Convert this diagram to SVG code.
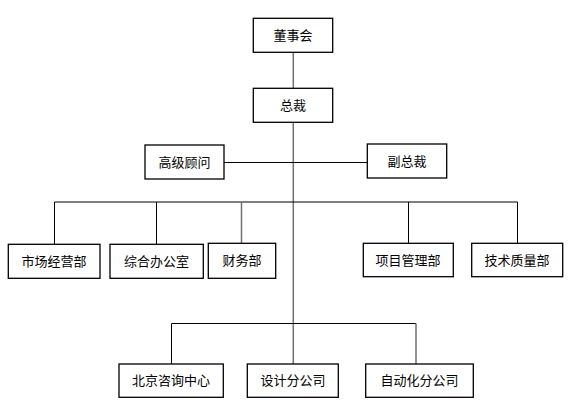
<svg xmlns="http://www.w3.org/2000/svg" width="575" height="415" viewBox="0 0 575 415">
<style>
.box{fill:#fff;stroke:#000;stroke-width:1.3}
.t{font-family:"Noto Sans CJK SC","Liberation Sans",sans-serif;font-size:13px;fill:#000;text-anchor:middle}
.ln{stroke:#000;stroke-width:1;fill:none}
.gr{stroke:#707070;stroke-width:1.5;fill:none}
</style>
<rect width="575" height="415" fill="#fff"/>
<g id="connectors">
<line class="gr" x1="293.3" y1="52" x2="293.3" y2="364"/>
<line class="ln" x1="224" y1="162.5" x2="367" y2="162.5"/>
<polyline class="ln" points="54.5,244 54.5,202 517.5,202 517.5,243"/>
<line class="ln" x1="156.5" y1="202" x2="156.5" y2="244"/>
<line class="gr" x1="241.5" y1="202" x2="241.5" y2="243"/>
<line class="ln" x1="408.5" y1="202" x2="408.5" y2="243"/>
<polyline class="ln" points="171.5,364 171.5,323.5 416,323.5"/>
<line class="gr" x1="416" y1="323.5" x2="416" y2="364"/>
</g>
<g id="n-dongshihui"><rect class="box" x="253.3" y="18.3" width="79.4" height="34"/><text class="t" x="293" y="39.5">董事会</text></g>
<g id="n-zongcai"><rect class="box" x="253.3" y="88.3" width="79.4" height="34"/><text class="t" x="293" y="109.5">总裁</text></g>
<g id="n-gaojiguwen"><rect class="box" x="145" y="145" width="79" height="34"/><text class="t" x="184.5" y="166.5">高级顾问</text></g>
<g id="n-fuzongcai"><rect class="box" x="367.3" y="144" width="79.4" height="34"/><text class="t" x="407" y="165.5">副总裁</text></g>
<g id="n-shichang"><rect class="box" x="8.3" y="244.3" width="91.7" height="34"/><text class="t" x="54" y="266">市场经营部</text></g>
<g id="n-zonghe"><rect class="box" x="110" y="244.3" width="93.3" height="34"/><text class="t" x="156.5" y="266">综合办公室</text></g>
<g id="n-caiwu"><rect class="box" x="208.3" y="243.3" width="67.4" height="35"/><text class="t" x="242" y="264.5">财务部</text></g>
<g id="n-xiangmu"><rect class="box" x="363.3" y="243.3" width="90" height="33.4"/><text class="t" x="408" y="264.5">项目管理部</text></g>
<g id="n-jishu"><rect class="box" x="471.7" y="243.3" width="91" height="33.4"/><text class="t" x="517" y="264.5">技术质量部</text></g>
<g id="n-beijing"><rect class="box" x="119" y="364" width="104.3" height="33.3"/><text class="t" x="171" y="385">北京咨询中心</text></g>
<g id="n-sheji"><rect class="box" x="247.3" y="364" width="91" height="33.3"/><text class="t" x="293" y="385">设计分公司</text></g>
<g id="n-zidonghua"><rect class="box" x="365.7" y="364" width="107.6" height="33.3"/><text class="t" x="419.5" y="385">自动化分公司</text></g>
</svg>
